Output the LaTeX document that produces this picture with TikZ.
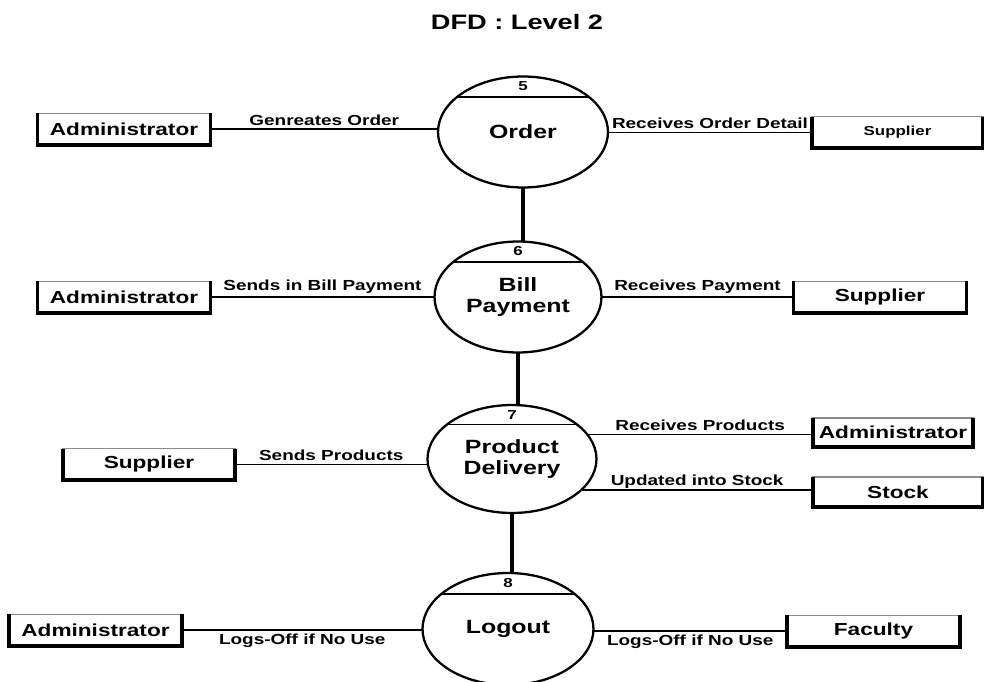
\documentclass[tikz,border=0pt]{standalone}
\usepackage{fontspec}
\setmainfont{Liberation Sans}[FakeStretch=1.3]
\usetikzlibrary{shapes.geometric,calc}

\begin{document}
\begin{tikzpicture}[x=0.02cm,y=-0.02cm,
	proc/.style={ellipse,draw,line width=1.3pt,minimum width=3.4cm,minimum height=2.22cm,inner sep=0pt,outer sep=0pt,align=center,font=\fontsize{10.9}{12.4}\selectfont\bfseries},
	entity/.style={draw=black!45,line width=0.6pt,minimum width=3.46cm,minimum height=0.63cm,inner sep=0pt,outer sep=0pt,font=\fontsize{9.9}{11}\selectfont\bfseries},
	flow/.style={line width=1.1pt},
	link/.style={line width=2.2pt},
	lbl/.style={inner sep=1.5pt,font=\fontsize{8.3}{9}\selectfont\bfseries},
	num/.style={inner sep=0pt,font=\fontsize{7.4}{8}\selectfont\bfseries}]
	\useasboundingbox (0,0) rectangle (984,682);

	\node[font=\fontsize{11.9}{13}\selectfont\bfseries] (title) at (517,22) {DFD : Level 2};

	% processes
	\node[proc] (order) at (523,132) {Order};
	\node[proc,minimum width=3.34cm] (bill) at (518,297) {Bill\\Payment};
	\node[proc,minimum width=3.38cm,minimum height=2.16cm] (delivery) at (512,459) {Product\\Delivery};
	\node[proc,minimum width=3.42cm,minimum height=2.24cm] (logout) at (508,629) {Logout};
	\foreach \p/\n in {order/5,bill/6,delivery/7,logout/8} {
		\draw[flow] (\p.152) -- (\p.28);
		\node[num] (n\n) at ($(\p.north)+(0,10)$) {\n};
	}

	% entities
	\node[entity] (admA) at (124,129) {Administrator};
	\node[entity,minimum width=3.42cm,font=\fontsize{7.4}{8}\selectfont\bfseries] (supA) at (897.5,132.5) {Supplier};
	\node[entity] (admB) at (124,297) {Administrator};
	\node[entity] (supB) at (880,297) {Supplier};
	\node[entity,minimum width=3.44cm] (supC) at (149,464.5) {Supplier};
	\node[entity,minimum width=3.2cm,minimum height=0.58cm] (admC) at (893,432.5) {Administrator};
	\node[entity,minimum width=3.4cm,minimum height=0.6cm] (stock) at (898,492) {Stock};
	\node[entity] (admD) at (95.5,630) {Administrator};
	\node[entity] (faculty) at (873.5,631) {Faculty};
	\foreach \e in {admA,supA,admB,supB,supC,admC,stock,admD,faculty}
		\draw[line width=2pt] (\e.north west) |- (\e.south east) -- (\e.north east);

	% flows
	\draw[flow] (admA.east) -- (admA.east -| order.west) node[lbl,midway,above] {Genreates Order};
	\draw[flow] (order.east |- supA.west) -- (supA.west) node[lbl,midway,above] {Receives Order Detail};
	\draw[flow] (admB.east) -- (admB.east -| bill.west) node[lbl,midway,above] {Sends in Bill Payment};
	\draw[flow] (bill.east |- supB.west) -- (supB.west) node[lbl,midway,above] {Receives Payment};
	\draw[flow] (supC.east) -- (supC.east -| delivery.west) node[lbl,midway,above] {Sends Products};
	\draw[flow] (delivery.18) -- (delivery.18 -| admC.west) node[lbl,midway,above] {Receives Products};
	\draw[flow] (delivery.-24) -- (delivery.-24 -| stock.west) node[lbl,midway,above,inner sep=0.3pt] {Updated into Stock};
	\draw[flow] (admD.east) -- (admD.east -| logout.west) node[lbl,midway,below] {Logs-Off if No Use};
	\draw[flow] (logout.east |- faculty.west) -- (faculty.west) node[lbl,midway,below] {Logs-Off if No Use};

	\draw[link] (order.south) -- (order.south |- bill.north);
	\draw[link] (bill.south) -- (bill.south |- delivery.north);
	\draw[link] (delivery.south) -- (delivery.south |- logout.north);
\end{tikzpicture}
\end{document}
